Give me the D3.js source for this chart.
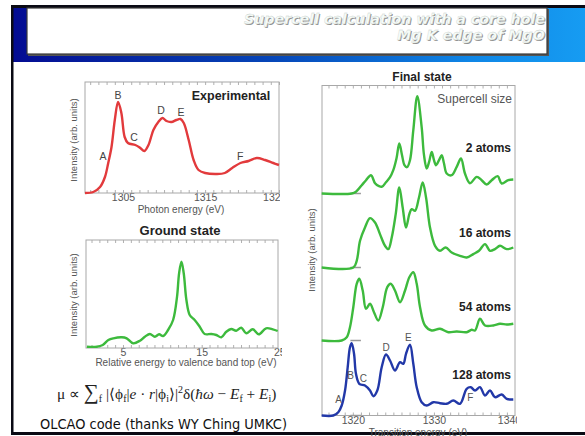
<!DOCTYPE html>
<html>
<head>
<meta charset="utf-8">
<script src="https://cdn.jsdelivr.net/npm/d3@7"></script>
<style>
  body { margin: 0; background: #fff; }
  svg { display: block; }
  text { font-family: "Liberation Sans", Arial, sans-serif; }
</style>
</head>
<body>
<svg id="slide" width="585" height="436"></svg>
<script>
//// DATA ///////////////////////////////////////////////////////////////////////

var titleLines = ["Supercell calculation with a core hole", "Mg K edge of MgO"];

// Experimental Mg K edge (photon energy in eV, intensity in arb. units)
var expEnergy = [1300.37, 1301.38, 1302.2, 1302.8, 1303.2, 1303.6, 1304.0, 1304.4, 1304.8,
	1305.2, 1305.6, 1306.5, 1307.1, 1307.6, 1308.1, 1308.7, 1309.3, 1309.8, 1310.3, 1310.9,
	1311.5, 1312.0, 1312.4, 1313.0, 1313.6, 1314.2, 1315.0, 1316.4, 1317.4, 1318.3, 1319.3,
	1320.3, 1321.3, 1322.3, 1323.3, 1324.0];
var expIntensity = [0.00, 0.01, 0.06, 0.16, 0.30, 0.46, 0.73, 0.91, 0.80,
	0.56, 0.50, 0.48, 0.45, 0.42, 0.48, 0.63, 0.71, 0.75, 0.72, 0.71,
	0.73, 0.74, 0.70, 0.53, 0.33, 0.23, 0.20, 0.19, 0.20, 0.25, 0.30,
	0.32, 0.35, 0.33, 0.30, 0.28];
var expPeaks = ["A", "B", "C", "D", "E", "F"];
var expPeakEnergy = [1302.56, 1304.39, 1306.34, 1309.63, 1312.07, 1319.27];
var expPeakIntensity = [0.37, 0.98, 0.56, 0.83, 0.81, 0.37];

// Ground state (energy relative to valence band top, eV)
var groundEnergy = [0.41, 1.67, 2.43, 3.14, 3.77, 4.84, 5.47, 6.30, 7.15, 7.78, 8.42, 9.05,
	9.59, 10.10, 10.73, 11.37, 11.87, 12.13, 12.43, 12.72, 13.06, 13.48, 14.11, 14.75, 15.38,
	16.23, 16.86, 17.49, 18.13, 18.76, 19.39, 20.03, 20.66, 21.49, 22.25, 23.19, 24.03, 24.66];
var groundIntensity = [0.013, 0.013, 0.03, 0.08, 0.097, 0.107, 0.097, 0.047, 0.073, 0.113, 0.14, 0.113,
	0.137, 0.12, 0.18, 0.28, 0.513, 0.747, 0.863, 0.747, 0.48, 0.33, 0.28, 0.213, 0.14,
	0.14, 0.13, 0.107, 0.163, 0.19, 0.173, 0.203, 0.147, 0.187, 0.137, 0.197, 0.187, 0.17];

// Final state, one curve per supercell size (transition energy in eV)
var cellLabels = ["2 atoms", "16 atoms", "54 atoms", "128 atoms"];
var cellOffsets = [2.22, 1.48, 0.75, 0.0];

var energy2 = [1316.16, 1319.86, 1320.39, 1321.10, 1321.63, 1322.24, 1322.74, 1323.23, 1323.60,
	1324.09, 1324.59, 1324.99, 1325.39, 1325.73, 1326.07, 1326.37, 1326.68, 1327.05, 1327.46,
	1327.95, 1328.49, 1328.78, 1329.11, 1329.40, 1329.73, 1330.01, 1330.26, 1330.63, 1330.96,
	1331.24, 1331.58, 1332.19, 1332.81, 1333.34, 1333.83, 1334.45, 1335.28, 1335.89, 1336.51,
	1337.13, 1337.87, 1338.36, 1339.17, 1339.79];
var intensity2 = [0, 0, 0.018, 0.083, 0.133, 0.183, 0.103, 0.073, 0.068,
	0.113, 0.163, 0.233, 0.353, 0.50, 0.383, 0.283, 0.263, 0.333, 0.633,
	0.973, 0.663, 0.383, 0.25, 0.313, 0.416, 0.333, 0.283, 0.333, 0.383,
	0.303, 0.20, 0.183, 0.266, 0.35, 0.20, 0.103, 0.166, 0.133, 0.09,
	0.133, 0.173, 0.10, 0.133, 0.14];

var energy16 = [1316.16, 1320.06, 1320.48, 1320.89, 1321.50, 1322.12, 1322.74, 1323.35, 1323.97,
	1324.38, 1324.80, 1325.29, 1325.73, 1326.15, 1326.56, 1326.97, 1327.26, 1327.67, 1328.16,
	1328.62, 1329.03, 1329.52, 1330.14, 1330.75, 1331.45, 1332.19, 1333.22, 1334.04, 1334.86,
	1335.56, 1336.30, 1336.92, 1337.53, 1338.15, 1338.98, 1339.79];
var intensity16 = [0, 0, 0.067, 0.267, 0.40, 0.494, 0.45, 0.334, 0.217,
	0.184, 0.30, 0.534, 0.80, 0.60, 0.40, 0.534, 0.584, 0.567, 0.70,
	0.85, 0.70, 0.40, 0.217, 0.167, 0.20, 0.15, 0.117, 0.10, 0.134,
	0.167, 0.234, 0.167, 0.184, 0.217, 0.184, 0.20];

var energy54 = [1316.16, 1318.63, 1319.25, 1319.65, 1320.06, 1320.48, 1320.80, 1321.22, 1321.63,
	1322.12, 1322.61, 1323.14, 1323.69, 1324.25, 1324.67, 1325.20, 1325.82, 1326.44, 1326.97,
	1327.46, 1327.88, 1328.29, 1328.90, 1329.73, 1330.75, 1331.78, 1332.81, 1334.04, 1334.66,
	1335.07, 1335.68, 1336.30, 1337.32, 1338.15, 1338.98, 1339.79];
var intensity54 = [0, 0, 0.033, 0.133, 0.333, 0.567, 0.617, 0.50, 0.317,
	0.367, 0.283, 0.20, 0.333, 0.533, 0.567, 0.50, 0.383, 0.50, 0.633,
	0.683, 0.567, 0.333, 0.15, 0.10, 0.117, 0.083, 0.09, 0.083, 0.107,
	0.10, 0.217, 0.15, 0.15, 0.167, 0.16, 0.167];

var energy128 = [1316.16, 1317.59, 1318.21, 1318.63, 1319.04, 1319.37, 1319.65, 1319.86, 1320.15,
	1320.39, 1320.80, 1321.50, 1322.12, 1322.53, 1323.02, 1323.56, 1324.09, 1324.59, 1325.20,
	1325.82, 1326.23, 1326.56, 1327.05, 1327.46, 1327.88, 1328.49, 1329.11, 1329.93, 1330.75,
	1331.58, 1332.39, 1333.22, 1334.04, 1334.54, 1335.07, 1335.68, 1336.30, 1336.92, 1337.53,
	1338.36, 1338.98, 1339.79];
var intensity128 = [0, 0, 0.033, 0.10, 0.25, 0.483, 0.683, 0.723, 0.617,
	0.417, 0.317, 0.30, 0.25, 0.193, 0.25, 0.483, 0.61, 0.55, 0.45,
	0.533, 0.517, 0.617, 0.707, 0.517, 0.283, 0.133, 0.10, 0.133, 0.123,
	0.117, 0.15, 0.117, 0.267, 0.283, 0.25, 0.283, 0.20, 0.25, 0.183,
	0.21, 0.167, 0.16];

var finalPeakEnergy = [1318.25, 1319.74, 1321.3, 1324.1, 1326.84, 1334.5];
var finalPeakIntensity = [0.16, 0.40, 0.37, 0.68, 0.78, 0.18];

var expTicks = [1305, 1315, 1325];
var groundTicks = [5, 15, 25];
var finalTicks = [1320, 1330, 1340];


//// SLIDE FRAME ////////////////////////////////////////////////////////////////

var svg = d3.select("#slide");
var defs = svg.append("defs");

var grad = defs.append("linearGradient").attr("id", "bar")
	.attr("x1", 0).attr("x2", 1).attr("y1", 0).attr("y2", 0);
grad.append("stop").attr("offset", 0).attr("stop-color", "#040c92");
grad.append("stop").attr("offset", 0.45).attr("stop-color", "#0646b8");
grad.append("stop").attr("offset", 0.8).attr("stop-color", "#0f86e6");
grad.append("stop").attr("offset", 1).attr("stop-color", "#169cf2");

svg.append("rect").attr("x", 13).attr("y", 8).attr("width", 572).attr("height", 54)
	.attr("fill", "url(#bar)");
svg.append("rect").attr("x", 11).attr("y", 5).attr("width", 574).attr("height", 3).attr("fill", "#0a0a14");
svg.append("rect").attr("x", 11).attr("y", 5).attr("width", 2.5).attr("height", 430).attr("fill", "#0a0a14");
svg.append("rect").attr("x", 11).attr("y", 432).attr("width", 574).attr("height", 3).attr("fill", "#0a0a14");

// white title box
svg.append("rect").attr("x", 28).attr("y", 9).attr("width", 521).attr("height", 47).attr("fill", "#555");
svg.append("rect").attr("x", 27).attr("y", 8).attr("width", 520).attr("height", 46)
	.attr("fill", "#fff").attr("stroke", "#3a3a3a").attr("stroke-width", 1.2);

var titleWidths = [301, 148];
titleLines.forEach(function(line, i) {
	var yy = 24 + i * 15.5;
	[["#909090", 1], ["#f6fcf9", 0]].forEach(function(s) {
		svg.append("text")
			.attr("x", 545 + s[1]).attr("y", yy + s[1])
			.attr("text-anchor", "end")
			.attr("textLength", titleWidths[i]).attr("lengthAdjust", "spacingAndGlyphs")
			.style("font-family", "'DejaVu Sans', Verdana, sans-serif")
			.style("font-size", "14px").style("font-weight", "bold").style("font-style", "italic")
			.attr("fill", s[0])
			.attr("stroke", s[1] ? "none" : "#c4ccc8").attr("stroke-width", 0.3)
			.text(line);
	});
});


//// HELPERS ////////////////////////////////////////////////////////////////////

function clipGroup(id, x, y, w, h) {
	defs.append("clipPath").attr("id", id)
		.append("rect").attr("x", x).attr("y", y).attr("width", w).attr("height", h);
	return svg.append("g").attr("clip-path", "url(#" + id + ")");
}

// lastShift nudges the last tick label inwards, as the source image does
function drawAxes(g, x, y, labelTicks, minorTicks, lastShift) {
	var y0 = y.range()[0], y1 = y.range()[1];
	g.append("g").attr("transform", "translate(0," + y0 + ")")
		.call(d3.axisBottom(x).tickValues(minorTicks).tickSize(-3).tickFormat(""));
	g.append("g").attr("transform", "translate(0," + y1 + ")")
		.call(d3.axisTop(x).tickValues(minorTicks).tickSize(-3).tickFormat(""));
	var lab = g.append("g").attr("transform", "translate(0," + y0 + ")")
		.call(d3.axisBottom(x).tickValues(labelTicks).tickSize(0).tickPadding(1).tickFormat(d3.format("d")));
	g.selectAll(".domain").remove();
	g.selectAll(".tick line").attr("stroke", "#b0b0b0");
	lab.selectAll("text").attr("fill", "#555")
		.style("font-family", "'Liberation Sans', Arial, sans-serif").style("font-size", "10.5px")
		.attr("dx", function(d, i) { return i === labelTicks.length - 1 ? -lastShift : 0; });
	g.append("rect")
		.attr("x", x.range()[0]).attr("y", y1)
		.attr("width", x.range()[1] - x.range()[0]).attr("height", y0 - y1)
		.attr("fill", "none").attr("stroke", "#a8a8a8").attr("stroke-width", 1);
}

function yLabel(g, x, yc) {
	g.append("text")
		.attr("transform", "translate(" + x + "," + yc + ") rotate(-90)")
		.attr("text-anchor", "middle").attr("dy", "0.35em")
		.attr("fill", "#555").style("font-size", "9.5px")
		.text("Intensity (arb. units)");
}

function curve(g, x, y, xs, ys, offset, color) {
	var pts = xs.map(function(d, i) { return [d, ys[i] + offset]; });
	g.append("path")
		.datum(pts)
		.attr("fill", "none").attr("stroke", color)
		.attr("stroke-width", 2.4).attr("stroke-linejoin", "round")
		.attr("d", d3.line()
			.x(function(d) { return x(d[0]); })
			.y(function(d) { return y(d[1]); })
			.curve(d3.curveCatmullRom.alpha(0.5)));
}


//// EXPERIMENTAL ///////////////////////////////////////////////////////////////

var expX = d3.scaleLinear().domain([1300.37, 1324.0]).range([85, 279]);
var expY = d3.scaleLinear().domain([0, 1.11]).range([193, 82]);
var gExp = clipGroup("clipExp", 62, 70, 218, 150);

drawAxes(gExp, expX, expY, expTicks, d3.range(1301, 1325, 1), 13);
curve(gExp, expX, expY, expEnergy, expIntensity, 0, "#e23a3c");
yLabel(gExp, 74, 140);

gExp.append("text").attr("x", 231).attr("y", 100).attr("text-anchor", "middle")
	.style("font-size", "12.5px").style("font-weight", "bold").attr("fill", "#222")
	.text("Experimental");
gExp.append("text").attr("x", 181).attr("y", 213).attr("text-anchor", "middle")
	.style("font-size", "10px").attr("fill", "#555").text("Photon energy (eV)");
gExp.selectAll(".peak").data(expPeaks).enter().append("text")
	.attr("x", function(d, i) { return expX(expPeakEnergy[i]); })
	.attr("y", function(d, i) { return expY(expPeakIntensity[i]); })
	.attr("text-anchor", "middle").attr("dy", "0.35em")
	.style("font-size", "10.5px").attr("fill", "#444")
	.text(function(d) { return d; });


//// GROUND STATE ///////////////////////////////////////////////////////////////

var gsX = d3.scaleLinear().domain([0.3, 24.7]).range([86, 278]);
var gsY = d3.scaleLinear().domain([0, 1.08]).range([348, 240]);
var gGs = clipGroup("clipGs", 62, 218, 220, 150);

drawAxes(gGs, gsX, gsY, groundTicks, d3.range(1, 25, 1), 1);
curve(gGs, gsX, gsY, groundEnergy, groundIntensity, 0, "#3dba3d");
yLabel(gGs, 74, 295);

gGs.append("text").attr("x", 180).attr("y", 235).attr("text-anchor", "middle")
	.style("font-size", "13px").style("font-weight", "bold").attr("fill", "#222")
	.text("Ground state");
gGs.append("text").attr("x", 186).attr("y", 366).attr("text-anchor", "middle")
	.style("font-size", "10px").attr("fill", "#555")
	.text("Relative energy to valence band top (eV)");


//// FINAL STATE ////////////////////////////////////////////////////////////////

var fsX = d3.scaleLinear().domain([1316.2, 1340.0]).range([322, 515]);
var fsY = d3.scaleLinear().domain([0, 3.3]).range([415.5, 85.5]);
var gFs = clipGroup("clipFs", 298, 62, 219, 374);

drawAxes(gFs, fsX, fsY, finalTicks, d3.range(1317, 1340, 1), 6);
yLabel(gFs, 312, 250);

var finalEnergy = [energy2, energy16, energy54, energy128];
var finalIntensity = [intensity2, intensity16, intensity54, intensity128];
var finalColors = ["#3dba3d", "#3dba3d", "#3dba3d", "#2238a8"];

cellOffsets.forEach(function(off, i) {
	gFs.append("line")
		.attr("x1", fsX(1319.7)).attr("x2", fsX(1321.0))
		.attr("y1", fsY(off)).attr("y2", fsY(off))
		.attr("stroke", "#999").attr("stroke-width", 1.5);
	curve(gFs, fsX, fsY, finalEnergy[i], finalIntensity[i], off, finalColors[i]);
});

var labelY = [148, 233, 307, 375];
cellLabels.forEach(function(lab, i) {
	gFs.append("text").attr("x", 511).attr("y", labelY[i]).attr("dy", "0.35em")
		.attr("text-anchor", "end")
		.style("font-size", "12px").style("font-weight", "bold").attr("fill", "#222")
		.text(lab);
});

gFs.append("text").attr("x", 422).attr("y", 81).attr("text-anchor", "middle")
	.style("font-size", "12px").style("font-weight", "bold").attr("fill", "#222")
	.text("Final state");
gFs.append("text").attr("x", 512).attr("y", 103).attr("text-anchor", "end")
	.style("font-size", "12px").attr("fill", "#555").text("Supercell size");
gFs.append("text").attr("x", 418).attr("y", 436).attr("text-anchor", "middle")
	.style("font-size", "10px").attr("fill", "#555").text("Transition energy (eV)");

gFs.selectAll(".peak").data(expPeaks).enter().append("text")
	.attr("x", function(d, i) { return fsX(finalPeakEnergy[i]); })
	.attr("y", function(d, i) { return fsY(finalPeakIntensity[i]); })
	.attr("text-anchor", "middle").attr("dy", "0.35em")
	.style("font-size", "10px").attr("fill", "#555")
	.text(function(d) { return d; });


//// FORMULA AND CREDIT /////////////////////////////////////////////////////////

// [text, kind] where kind is "", "sub", "sup", "it" or "big"
var formula = [["\u03bc \u221d ", ""], ["\u2211", "big"], ["f", "sub"], [" |\u27e8\u03d5", ""],
	["f", "sub"], ["|", ""], ["e", "it"], [" \u00b7 ", ""], ["r", "it"], ["|\u03d5", ""],
	["i", "sub"], ["\u27e9|", ""], ["2", "sup"], ["\u03b4(", ""], ["\u0127\u03c9", "it"],
	[" \u2212 ", ""], ["E", "it"], ["f", "sub"], [" + ", ""], ["E", "it"], ["i", "sub"], [")", ""]];

var ftext = svg.append("text").attr("x", 57).attr("y", 399)
	.style("font-family", "'Liberation Serif', 'Times New Roman', serif")
	.style("font-size", "15.3px").attr("fill", "#222");
var shift = 0;
formula.forEach(function(p) {
	var target = p[1] === "sub" ? 3 : (p[1] === "sup" ? -6 : 0);
	var t = ftext.append("tspan").attr("dy", target - shift).text(p[0]);
	shift = target;
	if (p[1] === "sub" || p[1] === "sup") t.style("font-size", "10px");
	if (p[1] === "it") t.style("font-style", "italic");
	if (p[1] === "big") t.style("font-size", "21px");
});

svg.append("text").attr("x", 40).attr("y", 429)
	.attr("textLength", 247).attr("lengthAdjust", "spacingAndGlyphs")
	.style("font-family", "'DejaVu Sans', Tahoma, sans-serif").style("font-size", "13.5px")
	.attr("fill", "#111")
	.text("OLCAO code (thanks WY Ching UMKC)");
</script>
</body>
</html>
